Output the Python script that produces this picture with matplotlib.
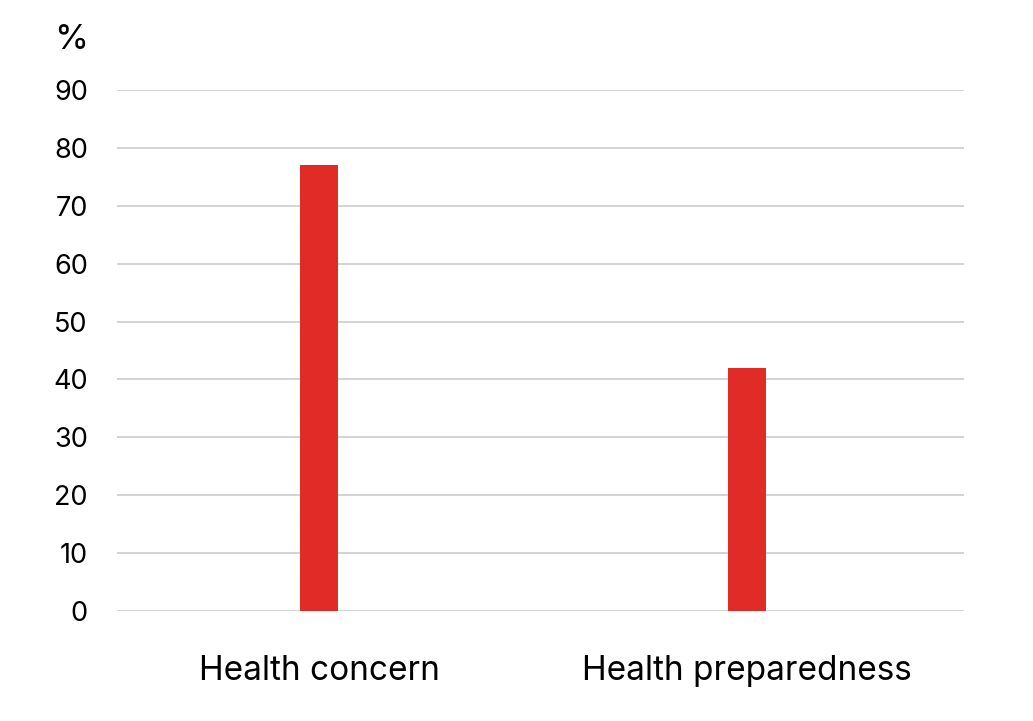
import matplotlib.pyplot as plt

categories = ['Health concern', 'Health preparedness']
values = [77, 42]
yticks = [0, 10, 20, 30, 40, 50, 60, 70, 80, 90]

plt.rcParams['font.family'] = ['Inter', 'DejaVu Sans']

fig = plt.figure(figsize=(10.33, 7.21), dpi=100)
ax = fig.add_axes([0.1133, 0.1526, 0.8199, 0.7226])

x = range(len(categories))
ax.bar(x, values, width=0.089, color='#e02b27', zorder=3)

ax.set_xlim(-0.472, 1.507)
ax.set_ylim(0, 90)
ax.set_yticks(yticks)
ax.set_xticks(list(x))
ax.set_xticklabels(categories, fontsize=24)
ax.tick_params(axis='y', length=0, pad=21, labelsize=19.5)
ax.tick_params(axis='x', length=0, pad=32)
ax.grid(axis='y', color='#c8c8c8', linewidth=1.1, zorder=0)
for s in ax.spines.values():
    s.set_visible(False)

fig.text(54 / 1033, 1 - 40 / 721, '%', fontsize=25, va='center', ha='left')

fig.savefig('out.png', dpi=100)
